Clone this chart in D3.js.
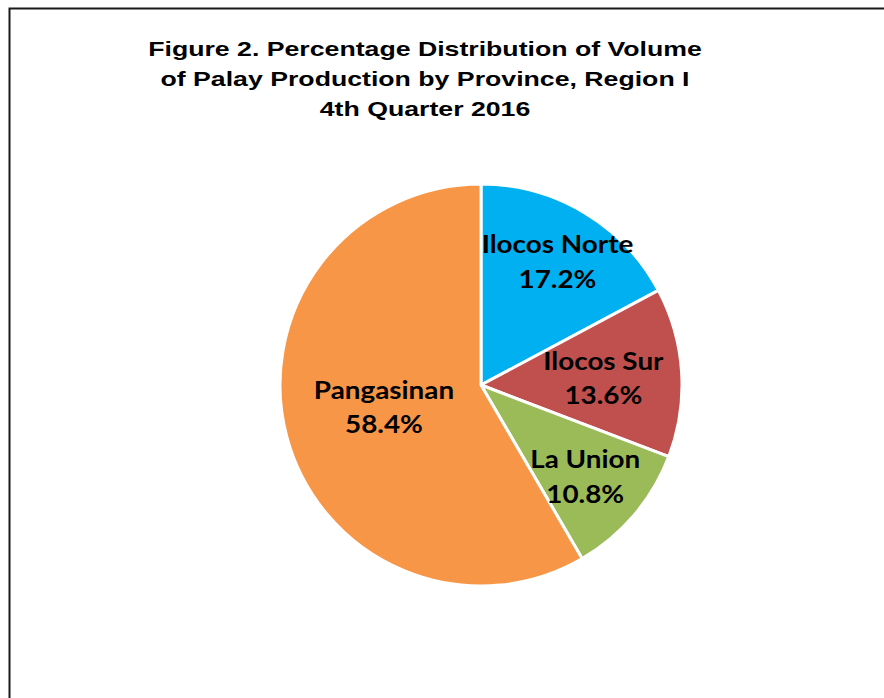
<!DOCTYPE html>
<head>
    <meta charset="utf-8">
    <title>Palay Production by Province</title>
    <script src="https://d3js.org/d3.v7.min.js"></script>
    <style>
        body { margin: 0; background: #fff; }
    </style>
</head>
<body>
    <svg width="884" height="698"></svg>
    <script>
        // data
        var provinces = ["Ilocos Norte", "Ilocos Sur", "La Union", "Pangasinan"];
        var shares = [17.2, 13.6, 10.8, 58.4];
        var colors = ["#00B0F0", "#C0504D", "#9BBB59", "#F79646"];
        var titleLines = [
            "Figure 2. Percentage Distribution of Volume",
            "of Palay Production by Province, Region I",
            "4th Quarter 2016"
        ];
        // label distance from centre, as share of radius (Excel "best fit"), plus small nudges
        var labelRadius = [0.72, 0.61, 0.68, 0.50];
        var labelNudge = [[2, -4], [0, -4], [0, -2], [0, -9]];

        var svg = d3.select("svg");
        var cx = 481, cy = 385, radius = 201;

        // outer frame (open at bottom, runs off right edge)
        svg.append("path")
            .attr("d", "M9.5,700 L9.5,8.5 L890,8.5")
            .attr("fill", "none")
            .attr("stroke", "#1a1a1a")
            .attr("stroke-width", 2);

        // the source image is stretched horizontally, so the text is too
        svg.append("g")
            .attr("transform", "translate(425,0) scale(1.27,1)")
            .selectAll("text")
            .data(titleLines)
            .enter().append("text")
            .attr("x", 0)
            .attr("y", function(d, i) { return 56 + i * 30; })
            .attr("text-anchor", "middle")
            .attr("font-family", "Liberation Sans, Arial, sans-serif")
            .attr("font-weight", "bold")
            .attr("font-size", "21px")
            .attr("fill", "#000")
            .text(function(d) { return d; });

        var pie = d3.pie().sort(null).value(function(d) { return d; });
        var arcs = pie(shares);
        var arc = d3.arc().innerRadius(0).outerRadius(radius);

        var g = svg.append("g").attr("transform", "translate(" + cx + "," + cy + ")");

        g.selectAll("path")
            .data(arcs)
            .enter().append("path")
            .attr("d", arc)
            .attr("fill", function(d, i) { return colors[i]; })
            .attr("stroke", "#fff")
            .attr("stroke-width", 3)
            .attr("stroke-linejoin", "round");

        var labels = g.selectAll("text")
            .data(arcs)
            .enter().append("text")
            .attr("transform", function(d, i) {
                var r = radius * labelRadius[i];
                var la = d3.arc().innerRadius(r).outerRadius(r);
                var c = la.centroid(d);
                return "translate(" + (c[0] + labelNudge[i][0]) + "," + (c[1] + labelNudge[i][1]) + ") scale(1.16,1)";
            })
            .attr("text-anchor", "middle")
            .attr("font-family", "Lato, Carlito, Calibri, sans-serif")
            .attr("font-weight", "bold")
            .attr("font-size", "24px")
            .attr("fill", "#000");

        labels.append("tspan")
            .attr("x", 0)
            .attr("dy", "-0.15em")
            .text(function(d, i) { return provinces[i]; });
        labels.append("tspan")
            .attr("x", 0)
            .attr("dy", "1.45em")
            .text(function(d, i) { return d.value.toFixed(1) + "%"; });
    </script>
</body>
